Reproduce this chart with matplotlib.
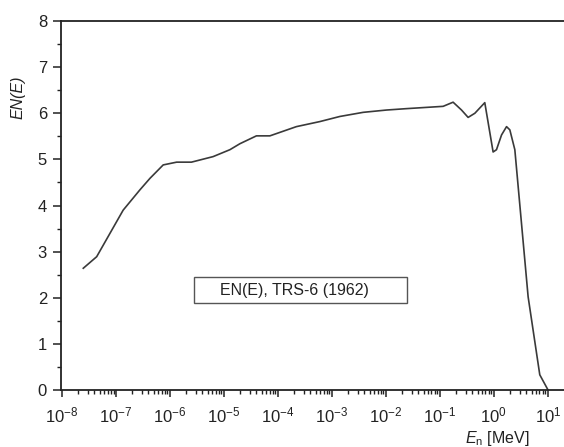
import matplotlib
matplotlib.use("Agg")
import matplotlib.pyplot as plt
from matplotlib.ticker import LogLocator, MultipleLocator, NullFormatter
from matplotlib.patches import Rectangle

plt.rcParams['font.family'] = ['Liberation Sans', 'DejaVu Sans']
plt.rcParams['mathtext.fontset'] = 'custom'
plt.rcParams['mathtext.rm'] = 'Liberation Sans'
plt.rcParams['mathtext.it'] = 'Liberation Sans:italic'
plt.rcParams['mathtext.bf'] = 'Liberation Sans:bold'

# Energia neutronow [MeV] i EN(E)
energy = [2.48e-8, 4.39e-8, 1.36e-7, 2.78e-7, 4.27e-7, 7.5e-7, 1.33e-6,
          2.5e-6, 6.3e-6, 1.29e-5, 1.98e-5, 4.0e-5, 7.1e-5, 2.2e-4,
          6.0e-4, 1.4e-3, 3.8e-3, 1.03e-2, 2.4e-2, 0.115, 0.176, 0.252,
          0.334, 0.445, 0.68, 0.97, 1.12, 1.39, 1.72, 1.98, 2.45, 4.32,
          7.1, 10.1]
en_values = [2.64, 2.89, 3.90, 4.34, 4.59, 4.88, 4.94,
             4.94, 5.06, 5.21, 5.34, 5.51, 5.51, 5.71,
             5.82, 5.93, 6.02, 6.07, 6.10, 6.15, 6.24, 6.07,
             5.91, 6.00, 6.23, 5.16, 5.21, 5.53, 5.71, 5.64, 5.21, 2.02,
             0.33, 0.0]
decades = [1e-8, 1e-7, 1e-6, 1e-5, 1e-4, 1e-3, 1e-2, 1e-1, 1e0, 1e1]
legend_text = "EN(E), TRS-6 (1962)"

fig = plt.figure(figsize=(5.64, 4.47), dpi=100)
ax = fig.add_axes([0.108, 0.1275, 0.892, 0.8255])

ax.plot(energy, en_values, color='#3a3a3a', lw=1.2)

ax.set_xscale('log')
ax.set_xlim(10 ** -8.02, 10 ** 1.3)
ax.set_ylim(0, 8)

ax.set_xticks(decades)
ax.xaxis.set_minor_locator(LogLocator(base=10, subs=range(2, 10), numticks=20))
ax.xaxis.set_minor_formatter(NullFormatter())
ax.yaxis.set_major_locator(MultipleLocator(1))
ax.yaxis.set_minor_locator(MultipleLocator(0.5))

ax.tick_params(which='major', direction='out', length=5, width=1.1,
               labelsize=12, pad=4, color='#222222', labelcolor='#222222')
ax.tick_params(which='minor', direction='out', length=3, width=1.0,
               color='#222222')
ax.tick_params(axis='y', which='major', length=6)
ax.tick_params(axis='x', which='major', pad=6)

for side in ['left', 'bottom', 'top']:
    ax.spines[side].set_linewidth(1.3)
    ax.spines[side].set_color('#222222')
ax.spines['right'].set_visible(False)

ax.set_ylabel('EN(E)', fontsize=11.5, fontstyle='italic', color='#222222')
ax.yaxis.set_label_coords(-0.07, 0.794)
ax.set_xlabel(r'$\mathit{E}_\mathrm{n}$ [MeV]', fontsize=11.5, color='#222222')
ax.xaxis.set_label_coords(0.867, -0.105)

# ramka z opisem
ax.add_patch(Rectangle((0.2644, 0.236), 0.4236, 0.071, transform=ax.transAxes,
                       facecolor='white', edgecolor='#555555', lw=1.0))
ax.text(0.465, 0.271, legend_text, transform=ax.transAxes, fontsize=11.5,
        ha='center', va='center', color='#222222')

fig.savefig('out.png', dpi=100)
